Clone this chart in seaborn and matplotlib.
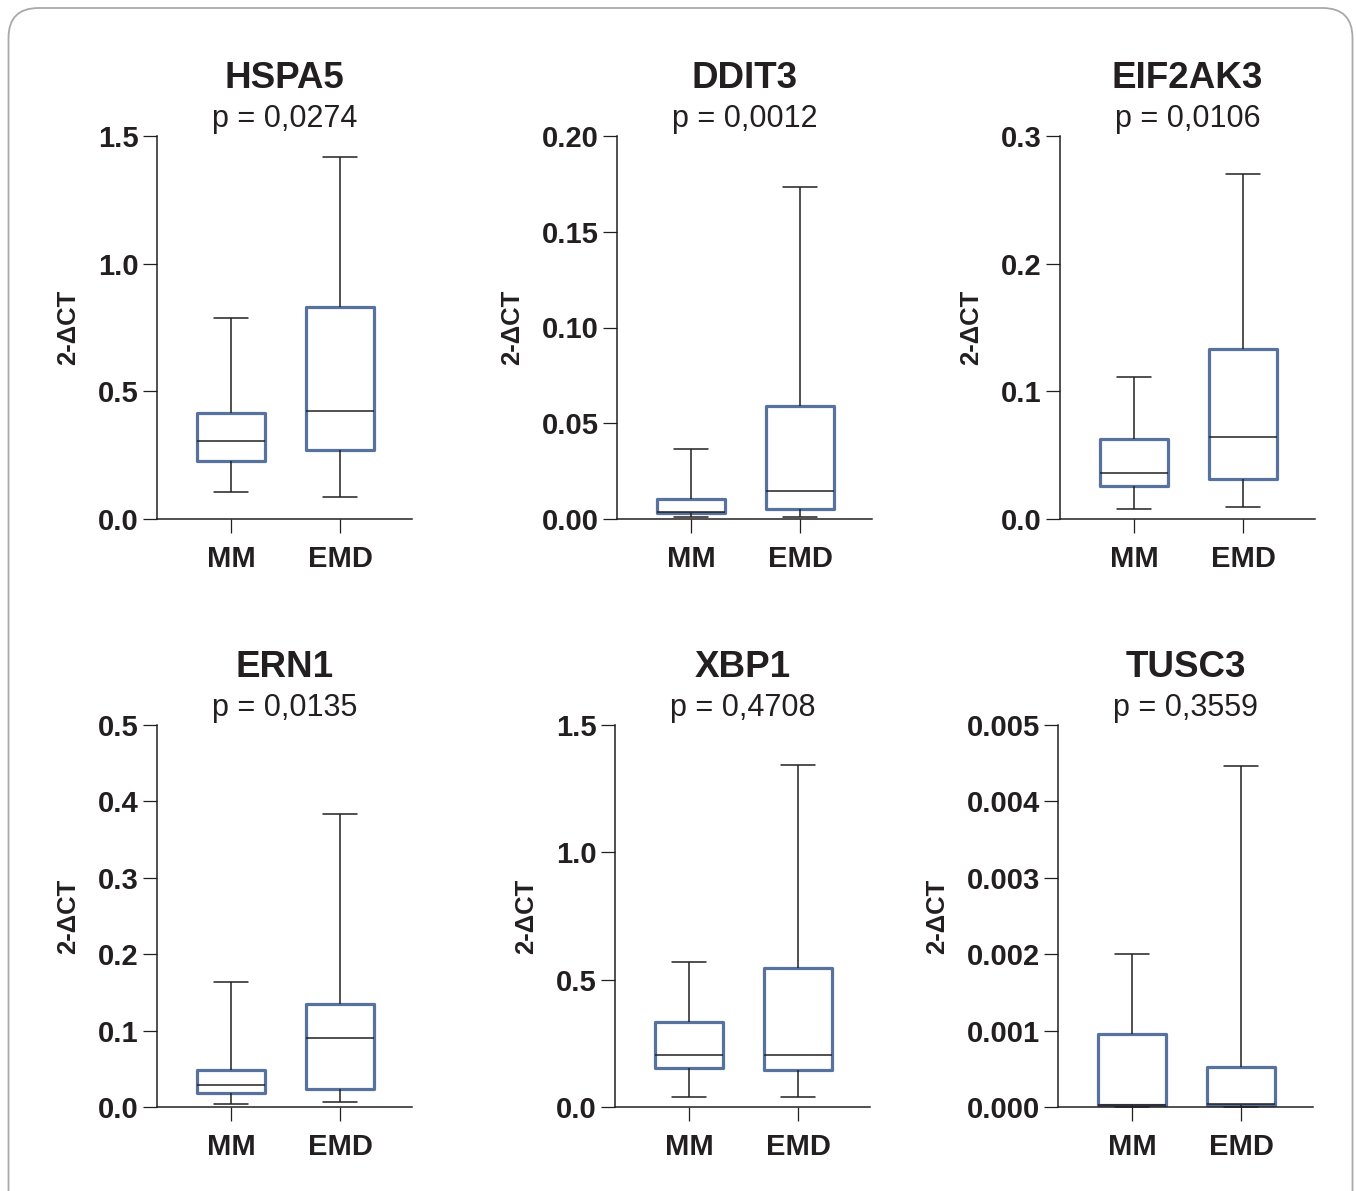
import matplotlib.pyplot as plt
import pandas as pd
import seaborn as sns
from matplotlib.patches import FancyBboxPatch

# five-number summaries: min, Q1, median, Q3, max
genes = ["HSPA5", "DDIT3", "EIF2AK3", "ERN1", "XBP1", "TUSC3"]
p_values = ["0,0274", "0,0012", "0,0106", "0,0135", "0,4708", "0,3559"]
groups = ["MM", "EMD"]

hspa5_mm = [0.106, 0.227, 0.305, 0.415, 0.787]
hspa5_emd = [0.086, 0.270, 0.423, 0.830, 1.418]
ddit3_mm = [0.0010, 0.0031, 0.0037, 0.0104, 0.0366]
ddit3_emd = [0.0010, 0.0052, 0.0146, 0.0590, 0.1734]
eif2ak3_mm = [0.0078, 0.0258, 0.0360, 0.0627, 0.111]
eif2ak3_emd = [0.0094, 0.0310, 0.0640, 0.1330, 0.270]
ern1_mm = [0.004, 0.0183, 0.0288, 0.0484, 0.1636]
ern1_emd = [0.0065, 0.0236, 0.0903, 0.1348, 0.3835]
xbp1_mm = [0.039, 0.153, 0.204, 0.334, 0.569]
xbp1_emd = [0.039, 0.145, 0.204, 0.546, 1.343]
tusc3_mm = [0.0, 0.00002, 0.00003, 0.000955, 0.0020]
tusc3_emd = [0.0, 0.00003, 0.00004, 0.00052, 0.00446]

summaries = {
    "HSPA5": (hspa5_mm, hspa5_emd),
    "DDIT3": (ddit3_mm, ddit3_emd),
    "EIF2AK3": (eif2ak3_mm, eif2ak3_emd),
    "ERN1": (ern1_mm, ern1_emd),
    "XBP1": (xbp1_mm, xbp1_emd),
    "TUSC3": (tusc3_mm, tusc3_emd),
}

# y axis: ticks and label format per gene
y_ticks = {
    "HSPA5": ([0, 0.5, 1.0, 1.5], "{:.1f}"),
    "DDIT3": ([0, 0.05, 0.10, 0.15, 0.20], "{:.2f}"),
    "EIF2AK3": ([0, 0.1, 0.2, 0.3], "{:.1f}"),
    "ERN1": ([0, 0.1, 0.2, 0.3, 0.4, 0.5], "{:.1f}"),
    "XBP1": ([0, 0.5, 1.0, 1.5], "{:.1f}"),
    "TUSC3": ([0, 0.001, 0.002, 0.003, 0.004, 0.005], "{:.3f}"),
}

sns.set_style("white")
plt.rcParams["font.family"] = ["Liberation Sans", "DejaVu Sans"]

BLUE = "#5872a0"
INK = "#231f20"

W, H = 1356, 1191
fig = plt.figure(figsize=(W / 100, H / 100), dpi=100)

# rounded frame around the whole panel
fig.add_artist(FancyBboxPatch((0.085, -0.5), 13.44, 12.33,
                              boxstyle="round,pad=0,rounding_size=0.3",
                              transform=fig.dpi_scale_trans,
                              facecolor="none", edgecolor="#a7a9ac", linewidth=1.3))

# axes boxes in pixels: left spine x, top y, bottom y
boxes = [(157, 136, 519), (617, 136, 519), (1060, 136, 519),
         (157, 725, 1107), (615, 725, 1107), (1058, 725, 1107)]
ax_w = 255

for gene, p, (lx, ty, by) in zip(genes, p_values, boxes):
    ax = fig.add_axes([lx / W, 1 - by / H, ax_w / W, (by - ty) / H])
    mm, emd = summaries[gene]
    df = pd.DataFrame({"group": ["MM"] * len(mm) + ["EMD"] * len(emd),
                       "value": mm + emd})
    sns.boxplot(data=df, x="group", y="value", order=groups, ax=ax,
                whis=(0, 100), width=0.62, fliersize=0,
                boxprops=dict(facecolor="white", edgecolor=BLUE, linewidth=2.3,
                              joinstyle="round"),
                whiskerprops=dict(color=INK, linewidth=1.1),
                capprops=dict(color=INK, linewidth=1.1),
                medianprops=dict(color=INK, linewidth=1.1))
    for art in ax.patches + ax.lines:
        art.set_clip_on(False)

    ticks, fmt = y_ticks[gene]
    ax.set_ylim(0, ticks[-1])
    ax.set_yticks(ticks)
    ax.set_yticklabels([fmt.format(t) for t in ticks])
    ax.set_xlim(-0.679, 1.66)
    ax.set_xlabel("")
    ax.set_ylabel("2-ΔCT", fontsize=18.5, fontweight="bold", color=INK, labelpad=13)

    sns.despine(ax=ax)
    for s in ["left", "bottom"]:
        ax.spines[s].set_color(INK)
        ax.spines[s].set_linewidth(1.1)
    ax.tick_params(axis="y", direction="out", length=10, width=0.9, pad=3,
                   color=INK, labelsize=21, labelcolor=INK, left=True)
    ax.tick_params(axis="x", direction="out", length=10, width=0.9, pad=9,
                   color=INK, labelsize=21, labelcolor=INK, bottom=True)
    for lab in ax.get_yticklabels() + ax.get_xticklabels():
        lab.set_fontweight("bold")

    h = by - ty
    ax.text(0.5, 1 + 48 / h, gene, transform=ax.transAxes, ha="center",
            va="baseline", fontsize=26.5, fontweight="bold", color=INK)
    ax.text(0.5, 1 + 9 / h, f"p = {p}", transform=ax.transAxes, ha="center",
            va="baseline", fontsize=22, color=INK)

fig.savefig("out.png", dpi=100, facecolor="white")
